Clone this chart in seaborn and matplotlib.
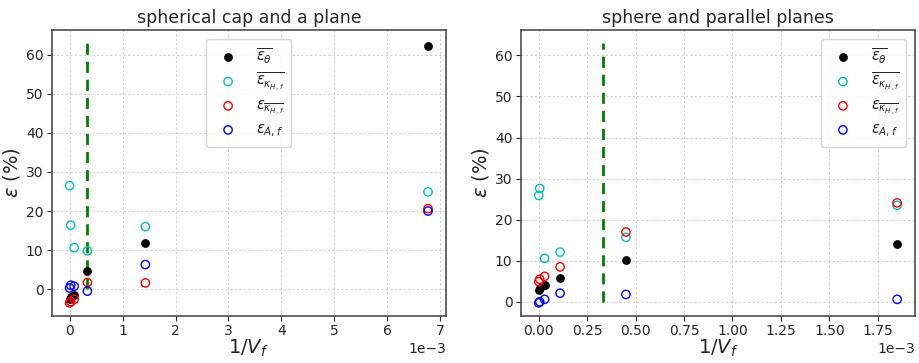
"""
Relative errors versus 1/V_f for two geometries.
"""

import matplotlib
matplotlib.use("Agg")
import matplotlib.pyplot as plt
import seaborn as sns


# spherical cap and a plane
x_cap = [0.0, 0.02e-3, 0.085e-3, 0.335e-3, 1.43e-3, 6.77e-3]
eps_theta_cap = [-2.5, -2.1, -1.6, 4.65, 11.8, 62.3]
eps_kappa_bar_cap = [26.5, 16.4, 10.6, 9.8, 16.0, 24.9]
eps_bar_kappa_cap = [-3.5, -3.2, -2.6, 1.7, 1.6, 20.6]
eps_area_cap = [0.3, 1.0, 0.75, -0.5, 6.3, 20.0]

# sphere and parallel planes
x_sph = [0.0, 0.005e-3, 0.03e-3, 0.11e-3, 0.45e-3, 1.85e-3]
eps_theta_sph = [2.9, 3.4, 4.2, 5.7, 10.3, 14.0]
eps_kappa_bar_sph = [25.9, 27.6, 10.6, 12.1, 15.7, 23.5]
eps_bar_kappa_sph = [4.9, 5.5, 6.2, 8.5, 17.0, 24.1]
eps_area_sph = [-0.25, 0.0, 0.6, 2.1, 1.8, 0.6]

titles = ["spherical cap and a plane", "sphere and parallel planes"]
labels = [
    r"$\overline{\epsilon_\theta}$",
    r"$\overline{\epsilon_{\kappa_{H,f}}}$",
    r"$\epsilon_{\overline{\kappa_{H,f}}}$",
    r"$\epsilon_{A,f}$",
]
colors = ["k", "c", "r", "b"]

threshold = 1 / 3000
line_top = 63


def plot_panel(ax, x, series, title, legend_loc):

    for i, (y, lab, col) in enumerate(zip(series, labels, colors)):
        if i == 0:
            sns.scatterplot(
                x=x, y=y, ax=ax, color=col, marker="o",
                s=40, edgecolor=col, linewidth=0, label=lab, zorder=3
            )
        else:
            sns.scatterplot(
                x=x, y=y, ax=ax, marker="o", s=36,
                facecolor="none", edgecolor=col, linewidth=1,
                label=lab, zorder=3
            )

    ax.plot(
        [threshold, threshold], [0, line_top],
        color="green", linestyle="--", linewidth=2, dashes=(4, 2.5)
    )

    ax.ticklabel_format(axis="x", style="sci", scilimits=(0, 0))
    ax.xaxis.get_offset_text().set_fontsize(10)
    ax.set_title(title, fontsize=12.5, pad=5)
    ax.set_xlabel(r"$1/V_f$", fontsize=14, labelpad=0)
    ax.set_ylabel(r"$\epsilon$ (%)", fontsize=14, labelpad=3)
    ax.tick_params(labelsize=10, pad=2.5)
    ax.set_yticks(range(0, 70, 10))
    ax.grid(True, color="0.82", linestyle=(0, (2, 2)), linewidth=0.8)
    ax.set_axisbelow(True)

    for sp in ax.spines.values():
        sp.set_color("0.3")
        sp.set_linewidth(1.2)

    ax.legend(loc=legend_loc, fontsize=10.5, handletextpad=0.9,
              borderpad=0.5, labelspacing=0.3, borderaxespad=0.6)


if __name__ == "__main__":

    sns.set_style("ticks")
    plt.rcParams["font.family"] = ["DejaVu Sans"]
    plt.rcParams["mathtext.fontset"] = "dejavusans"

    fig, axes = plt.subplots(1, 2, figsize=(9.19, 3.63), dpi=100)
    fig.subplots_adjust(left=0.0563, right=0.9957, bottom=0.13,
                        top=0.917, wspace=0.19)

    plot_panel(
        axes[0], x_cap,
        [eps_theta_cap, eps_kappa_bar_cap, eps_bar_kappa_cap, eps_area_cap],
        titles[0], "upper center"
    )
    plot_panel(
        axes[1], x_sph,
        [eps_theta_sph, eps_kappa_bar_sph, eps_bar_kappa_sph, eps_area_sph],
        titles[1], "upper right"
    )

    fig.savefig("out.png", dpi=100)
    plt.close(fig)
